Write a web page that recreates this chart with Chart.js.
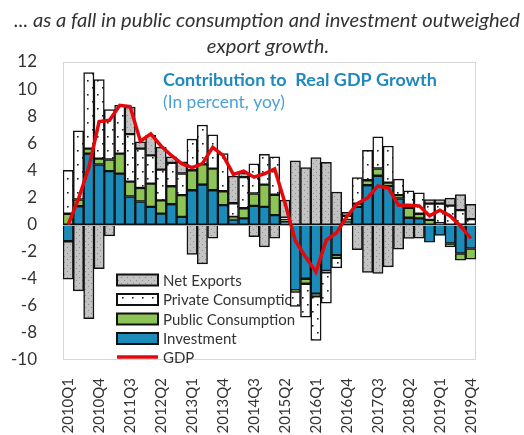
<!DOCTYPE html>
<html><head><meta charset="utf-8">
<script src="https://cdn.jsdelivr.net/npm/chart.js@4/dist/chart.umd.min.js"></script>
<style>html,body{margin:0;padding:0;background:#fff}#wrap{width:524px;height:435px;position:relative}canvas{display:block}</style>
</head><body><div id="wrap"><canvas id="c" width="524" height="435"></canvas></div>
<script>
const quarters = ['2010Q1','2010Q2','2010Q3','2010Q4','2011Q1','2011Q2','2011Q3','2011Q4',
'2012Q1','2012Q2','2012Q3','2012Q4','2013Q1','2013Q2','2013Q3','2013Q4',
'2014Q1','2014Q2','2014Q3','2014Q4','2015Q1','2015Q2','2015Q3','2015Q4',
'2016Q1','2016Q2','2016Q3','2016Q4','2017Q1','2017Q2','2017Q3','2017Q4',
'2018Q1','2018Q2','2018Q3','2018Q4','2019Q1','2019Q2','2019Q3','2019Q4'];
const tickLabels = ['2010Q1','2010Q4','2011Q3','2012Q2','2013Q1','2013Q4','2014Q3','2015Q2','2016Q1','2016Q4','2017Q3','2018Q2','2019Q1','2019Q4'];

const investment = [-1.23,1.35,5.24,4.43,3.94,3.76,2.07,1.7,1.3,0.81,1.5,0.57,2.53,2.95,2.53,1.43,0.37,0.45,1.38,1.3,0.7,0.2,-4.85,-4.0,-5.1,-3.42,-2.26,0.2,1.3,2.9,3.6,2.85,1.92,0.5,0.45,-1.3,-0.8,-1.4,-2.14,-1.77];
const publicCons = [0.8,0.5,0.37,0.44,0.86,1.48,1.1,1.0,1.72,0.98,1.33,1.6,1.48,1.5,1.6,1.03,0.2,0.75,0.91,1.65,1.5,0.2,-0.1,-0.37,-0.2,-0.1,-0.2,0.15,0.25,0.37,0.54,0.25,0.25,0.74,0.35,0.35,0.1,-0.25,-0.49,-0.79];
const privateCons = [3.2,5.07,5.6,5.83,3.69,3.57,3.5,2.9,2.09,2.26,1.72,1.6,2.3,2.9,2.5,2.78,1.0,2.3,2.2,2.24,2.8,0.1,-1.1,-2.46,-3.25,-2.29,-0.74,0.3,1.92,2.2,2.34,2.7,1.18,1.25,1.55,1.2,1.45,1.4,1.06,0.4];
const netExports = [-2.8,-4.9,-6.94,-3.25,-0.84,0.0,2.0,0.5,1.5,1.67,0.44,0.86,-2.2,-2.9,-1.0,0.0,2.0,0.3,-0.9,-1.65,-1.0,1.3,4.7,4.2,4.94,4.6,2.4,0.25,-1.85,-3.54,-3.6,-3.12,-1.82,-1.03,-1.0,0.3,0.3,0.55,1.16,1.1];
const gdp = [0.0,1.9,4.2,7.6,7.7,8.8,8.7,6.15,6.7,5.8,5.1,4.5,4.2,4.5,5.7,5.1,3.7,3.95,3.5,3.75,4.1,1.6,-1.2,-2.4,-3.5,-1.15,-0.6,0.6,1.55,1.97,2.85,2.7,1.43,1.43,1.38,0.64,1.06,0.64,-0.1,-1.03];

const seriesNames = ['Net Exports','Private Consumption','Public Consumption','Investment','GDP'];
const headline = ['... as a fall in public consumption and investment outweighed','export growth.'];
const innerTitle = 'Contribution to  Real GDP Growth';
const innerSub = '(In percent, yoy)';

function makePattern(w,h,bg,dot,dots,size){
  const c=document.createElement('canvas');c.width=w;c.height=h;
  const x=c.getContext('2d');x.fillStyle=bg;x.fillRect(0,0,w,h);
  x.fillStyle=dot;dots.forEach(p=>x.fillRect(p[0],p[1],size,size));
  return document.getElementById('c').getContext('2d').createPattern(c,'repeat');
}
const nxPat = makePattern(6,6,'#c3c3c3','#8e8e8e',[[1,1],[4,4]],1);
const pcPat = makePattern(10,14,'#ffffff','#222222',[[2,3],[7,10]],1.6);
const COL_INV='#1b8cba', COL_PUB='#8dc456', COL_RED='#e3080c';

function fitFont(ctx,style,family,text,width){
  ctx.font=style+' 20px '+family;
  const w=ctx.measureText(text).width;
  return style+' '+(20*width/w).toFixed(2)+'px '+family;
}

const barCommon = {borderColor:'#111',borderWidth:1.5,borderSkipped:false,barPercentage:1,categoryPercentage:1,order:1,stack:'s'};

const framePlugin = {
  id:'frame',
  beforeDatasetsDraw(chart){
    const {ctx,chartArea:a}=chart;
    ctx.save();
    ctx.strokeStyle='#d6d6d6';ctx.lineWidth=1;
    ctx.strokeRect(a.left+0.5,a.top+0.5,a.right-a.left-1,a.bottom-a.top-1);
    const lx=117, lw=41, lh=11, ys=[280,299.5,319,338.5,357];
    const fills=[nxPat,pcPat,COL_PUB,COL_INV];
    ctx.font='15px Lato';ctx.textBaseline='middle';ctx.textAlign='left';
    for(let i=0;i<5;i++){
      const y=ys[i];
      if(i<4){
        ctx.fillStyle=fills[i];ctx.fillRect(lx,y-lh/2,lw,lh);
        ctx.strokeStyle='#111';ctx.lineWidth=2;ctx.strokeRect(lx,y-lh/2,lw,lh);
      } else {
        ctx.strokeStyle=COL_RED;ctx.lineWidth=3.5;ctx.beginPath();ctx.moveTo(lx,y);ctx.lineTo(lx+lw,y);ctx.stroke();
      }
      ctx.fillStyle='#333';ctx.fillText(seriesNames[i],lx+lw+5,y+1);
    }
    ctx.restore();
  },
  beforeDatasetDraw(chart,args){
    if(args.index!==4) return;
    const {ctx,chartArea:a,scales:{y}}=chart;
    const y0=Math.round(y.getPixelForValue(0))+0.5;
    ctx.save();ctx.strokeStyle='#b0b0b0';ctx.lineWidth=1;
    ctx.beginPath();ctx.moveTo(a.left,y0);ctx.lineTo(a.right,y0);ctx.stroke();ctx.restore();
  },
  afterDraw(chart){
    const {ctx}=chart;
    ctx.save();
    ctx.fillStyle='#333';ctx.textAlign='center';ctx.textBaseline='middle';
    const hf=fitFont(ctx,'italic','Lato',headline[0],506);
    ctx.font=hf;
    ctx.fillText(headline[0],267,20);
    ctx.fillText(headline[1],268,46);
    ctx.textAlign='left';
    ctx.fillStyle='#1f88bf';ctx.font=fitFont(ctx,'bold','Lato',innerTitle,274);
    ctx.fillText(innerTitle,163,80);
    ctx.fillStyle='#4ba3d5';ctx.font=fitFont(ctx,'normal','Lato',innerSub,122);
    ctx.fillText(innerSub,163,102);
    ctx.restore();
  }
};

new Chart(document.getElementById('c'),{
  type:'bar',
  data:{labels:quarters,datasets:[
    {...barCommon,label:seriesNames[3],data:investment,backgroundColor:COL_INV},
    {...barCommon,label:seriesNames[2],data:publicCons,backgroundColor:COL_PUB},
    {...barCommon,label:seriesNames[1],data:privateCons,backgroundColor:pcPat},
    {...barCommon,label:seriesNames[0],data:netExports,backgroundColor:nxPat},
    {type:'line',label:seriesNames[4],data:gdp,borderColor:COL_RED,borderWidth:3.5,pointRadius:0,tension:0,fill:false,order:0}
  ]},
  options:{
    responsive:false,animation:false,devicePixelRatio:1,
    layout:{padding:{top:62,right:48,left:0,bottom:0}},
    plugins:{legend:{display:false},tooltip:{enabled:false},title:{display:false}},
    scales:{
      x:{stacked:true,offset:true,grid:{display:false},border:{display:false},
        afterFit(s){s.height=75;},
        ticks:{autoSkip:false,maxRotation:90,minRotation:90,padding:10,color:'#333',font:{family:'Lato',size:15},
          callback(v,i){const l=quarters[i];return tickLabels.includes(l)?l:'';}}},
      y:{stacked:true,min:-10,max:12,grid:{display:false},border:{display:false},
        afterFit(s){s.width=63;},
        ticks:{stepSize:2,padding:18,color:'#333',font:{family:'Lato',size:17}}}
    }
  },
  plugins:[framePlugin]
});
</script></body></html>
